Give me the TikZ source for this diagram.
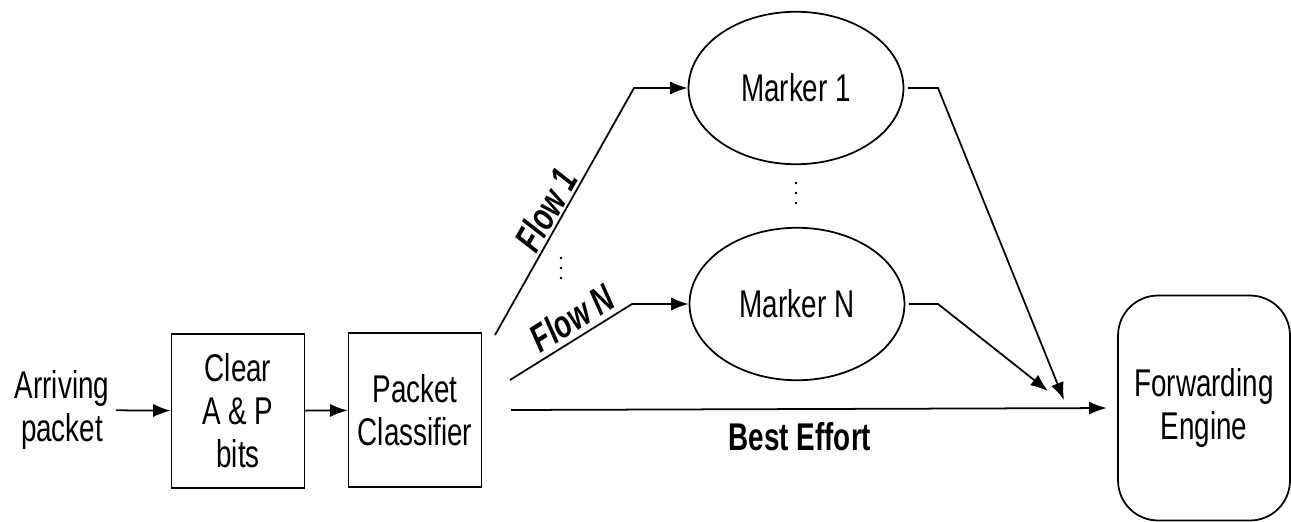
\documentclass[tikz,border=0pt]{standalone}
\usepackage{fontspec}
\setmainfont{Liberation Sans}[FakeStretch=0.72]
\usetikzlibrary{arrows.meta,positioning,shapes.geometric}

\begin{document}
\begin{tikzpicture}
[x=0.02cm,y=-0.02cm,->,>={Latex[length=10pt,width=7.5pt]},line width=1pt,
  every node/.style={font=\fontsize{22}{24.5}\selectfont,align=center},
  block/.style={rectangle,draw,minimum width=2.66cm,minimum height=3.08cm},
  marker/.style={ellipse,draw,inner sep=0pt,minimum width=4.3cm,minimum height=3.05cm},
  engine box/.style={rectangle,draw,rounded corners=0.8cm,minimum width=3.44cm,minimum height=4.5cm},
  flow label/.style={font=\fontsize{22}{24.5}\selectfont\bfseries\itshape}]

  \useasboundingbox (0,0) rectangle (1291,521);

  \node (arriving) at 	(62,410) 	{Arriving\\packet};
  \node [block] (clear) at 	(238,411) 	{Clear\\A \& P\\bits};
  \node [block] (classifier) at (415,410) 	{Packet\\Classifier};
  \node [marker] (marker1) at 	(796,88) 	{Marker 1};
  \node [marker] (markerN) at 	(797,304) 	{Marker N};
  \node [engine box] (engine) at (1204,408) 	{Forwarding\\Engine};

  % bends of the flow lines
  \coordinate (f1start) at (495,335);
  \coordinate (f1bend) at (634,88);
  \coordinate (fNstart) at (510,380);
  \coordinate (fNbend) at (632,304);
  \coordinate (bestart) at (511,410);
  \coordinate (m1bend) at (938,88);
  \coordinate (m1end) at (1064,400);
  \coordinate (mNbend) at (938,304);
  \coordinate (mNend) at (1048,391);

  \foreach \from/\to in {arriving/clear,clear/classifier}
    \draw (\from) -- (\to);

  \draw (f1start) -- (f1bend) -- (marker1.west);
  \draw (fNstart) -- (fNbend) -- (markerN.west);
  \draw [shorten >=6pt] (bestart) -- (engine.west);
  \draw [shorten <=2pt] (marker1.east) -- (m1bend) -- (m1end);
  \draw [shorten <=2pt] (markerN.east) -- (mNbend) -- (mNend);

  \node [flow label,rotate=60] (flow1) at (546,210) {Flow 1};
  \node [flow label,rotate=32] (flowN) at (572,318) {Flow N};
  \node [font=\fontsize{22}{24.5}\selectfont\bfseries] (best) at (800,437) {Best Effort};

  % vertical dots between the markers and between the flows
  \foreach \y in {183,193,203}
    \fill (796,\y) circle (1.3);
  \foreach \y in {258,268,278}
    \fill (561,\y) circle (1.3);

\end{tikzpicture}
\end{document}
